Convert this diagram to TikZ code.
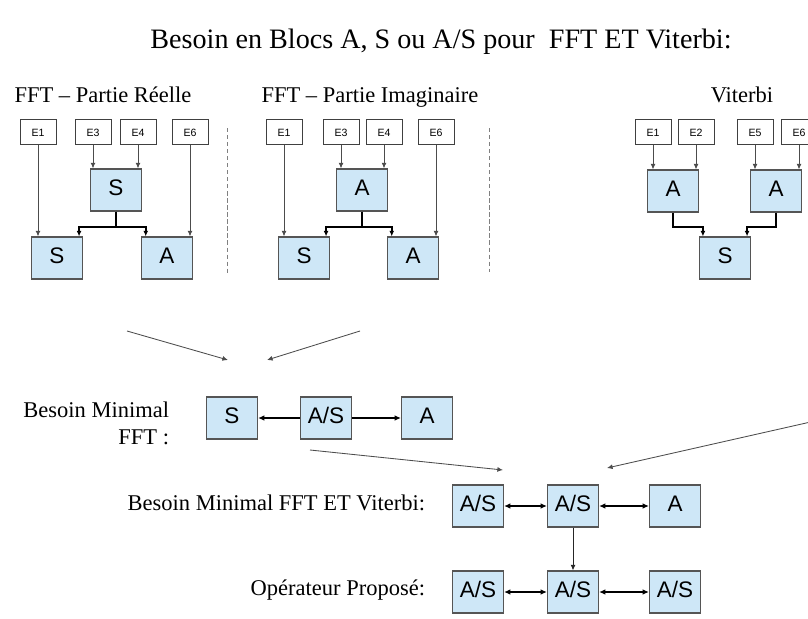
\documentclass[tikz,border=0pt]{standalone}
\usepackage{fontspec}
\setmainfont{Liberation Serif}
\setsansfont{Liberation Sans}
\usetikzlibrary{arrows.meta}
\definecolor{bleubloc}{RGB}{206,231,247}
\definecolor{bordbloc}{RGB}{85,85,85}

\begin{document}
\begin{tikzpicture}[x=0.025cm, y=-0.025cm,
  every node/.style={font=\fontsize{16}{19}\selectfont, text height=1.6ex, text depth=0.4ex},
  bloc/.style={draw=bordbloc, fill=bleubloc, line width=0.8pt, minimum width=1.275cm, minimum height=1.05cm, inner sep=0pt, font=\sffamily\fontsize{16}{19}\selectfont, text height=1.7ex, text depth=0.1ex},
  entree/.style={draw=black!75, fill=white, line width=0.6pt, minimum width=0.9cm, minimum height=0.625cm, inner sep=0pt, font=\sffamily\fontsize{7.5}{9}\selectfont, text height=1.6ex, text depth=0.2ex},
  fleche/.style={-{Latex[length=4pt,width=3.5pt]}, black!70, line width=0.6pt},
  bus/.style={-{Latex[length=4pt,width=3.5pt]}, line width=1.4pt},
  lien/.style={-{Latex[length=4.5pt,width=4pt]}, line width=1pt},
  lien2/.style={{Latex[length=4.5pt,width=4pt]}-{Latex[length=4.5pt,width=4pt]}, line width=1pt},
  sep/.style={densely dashed, black!50, line width=0.5pt}]
  \clip (0,0) rectangle (808,618);
  \fill[white] (0,0) rectangle (808,618);

  \node[font=\fontsize{20}{24}\selectfont] (titre) at (441,45) {Besoin en Blocs A, S ou A/S pour\ \ FFT ET Viterbi:};

  % FFT - partie reelle
  \node (treel) at (103,99) {FFT – Partie Réelle};
  \node[entree] (r1) at (38,132) {E1};
  \node[entree] (r3) at (93,132) {E3};
  \node[entree] (r4) at (138,132) {E4};
  \node[entree] (r6) at (190,132) {E6};
  \node[bloc] (rm) at (116,190) {S};
  \node[bloc] (rs) at (57,258) {S};
  \node[bloc] (ra) at (167,258) {A};
  \draw[fleche] (r1.south) -- (r1.south |- rs.north);
  \draw[fleche] (r3.south) -- (r3.south |- rm.north);
  \draw[fleche] (r4.south) -- (r4.south |- rm.north);
  \draw[fleche] (r6.south) -- (r6.south |- ra.north);
  \draw[bus] (rm.south) -- ++(0,15) -| ([xshift=-0.1cm]rs.north east);
  \draw[bus] (rm.south) -- ++(0,15) -| ([xshift=0.12cm]ra.north west);
  \draw[sep] (227,128) -- (227,273);

  % FFT - partie imaginaire
  \node (timag) at (370,99) {FFT – Partie Imaginaire};
  \node[entree] (i1) at (284,132) {E1};
  \node[entree] (i3) at (341,132) {E3};
  \node[entree] (i4) at (384,132) {E4};
  \node[entree] (i6) at (436,132) {E6};
  \node[bloc] (im) at (362,190) {A};
  \node[bloc] (is) at (304,258) {S};
  \node[bloc] (ia) at (413,258) {A};
  \draw[fleche] (i1.south) -- (i1.south |- is.north);
  \draw[fleche] (i3.south) -- (i3.south |- im.north);
  \draw[fleche] (i4.south) -- (i4.south |- im.north);
  \draw[fleche] (i6.south) -- (i6.south |- ia.north);
  \draw[bus] (im.south) -- ++(0,15) -| ([xshift=-0.1cm]is.north east);
  \draw[bus] (im.south) -- ++(0,15) -| ([xshift=0.12cm]ia.north west);
  \draw[sep] (489,128) -- (489,272);

  % Viterbi
  \node (tvit) at (742,99) {Viterbi};
  \node[entree] (v1) at (653,132) {E1};
  \node[entree] (v2) at (696,132) {E2};
  \node[entree] (v5) at (755,132) {E5};
  \node[entree] (v6) at (799,132) {E6};
  \node[bloc] (va1) at (673,191) {A};
  \node[bloc] (va2) at (776,191) {A};
  \node[bloc] (vs) at (725,258) {S};
  \draw[fleche] (v1.south) -- (v1.south |- va1.north);
  \draw[fleche] (v2.south) -- (v2.south |- va1.north);
  \draw[fleche] (v5.south) -- (v5.south |- va2.north);
  \draw[fleche] (v6.south) -- (v6.south |- va2.north);
  \draw[bus] (va1.south) -- ++(0,14) -| ([xshift=0.1cm]vs.north west);
  \draw[bus] (va2.south) -- ++(0,14) -| ([xshift=-0.1cm]vs.north east);

  % besoin minimal FFT
  \coordinate (g1) at (127,331);
  \coordinate (g2) at (228,360);
  \coordinate (d1) at (360,331);
  \coordinate (d2) at (267,360);
  \draw[fleche] (g1) -- (g2);
  \draw[fleche] (d1) -- (d2);
  \node[anchor=east, align=right, text height=, text depth=] (lmin) at (174,423) {Besoin Minimal\\FFT :};
  \node[bloc] (ms) at (232,418) {S};
  \node[bloc] (mas) at (326,418) {A/S};
  \node[bloc] (ma) at (427,418) {A};
  \draw[lien] (mas) -- (ms);
  \draw[lien] (mas) -- (ma);

  % FFT et Viterbi
  \coordinate (h1) at (310,450);
  \coordinate (h2) at (503,470);
  \coordinate (k1) at (815,421);
  \coordinate (k2) at (607,468);
  \draw[fleche] (h1) -- (h2);
  \draw[fleche] (k1) -- (k2);
  \node[anchor=east] (lfv) at (430,507) {Besoin Minimal FFT ET Viterbi:};
  \node[bloc] (f1) at (478,506) {A/S};
  \node[bloc] (f2) at (573,506) {A/S};
  \node[bloc] (f3) at (675,506) {A};
  \draw[lien2] (f1) -- (f2);
  \draw[lien2] (f2) -- (f3);

  % operateur propose
  \node[anchor=east] (lop) at (430,592) {Opérateur Proposé:};
  \node[bloc] (o1) at (478,592) {A/S};
  \node[bloc] (o2) at (573,592) {A/S};
  \node[bloc] (o3) at (675,592) {A/S};
  \draw[lien2] (o1) -- (o2);
  \draw[lien2] (o2) -- (o3);
  \draw[fleche, black!85] (f2) -- (o2);
\end{tikzpicture}
\end{document}
